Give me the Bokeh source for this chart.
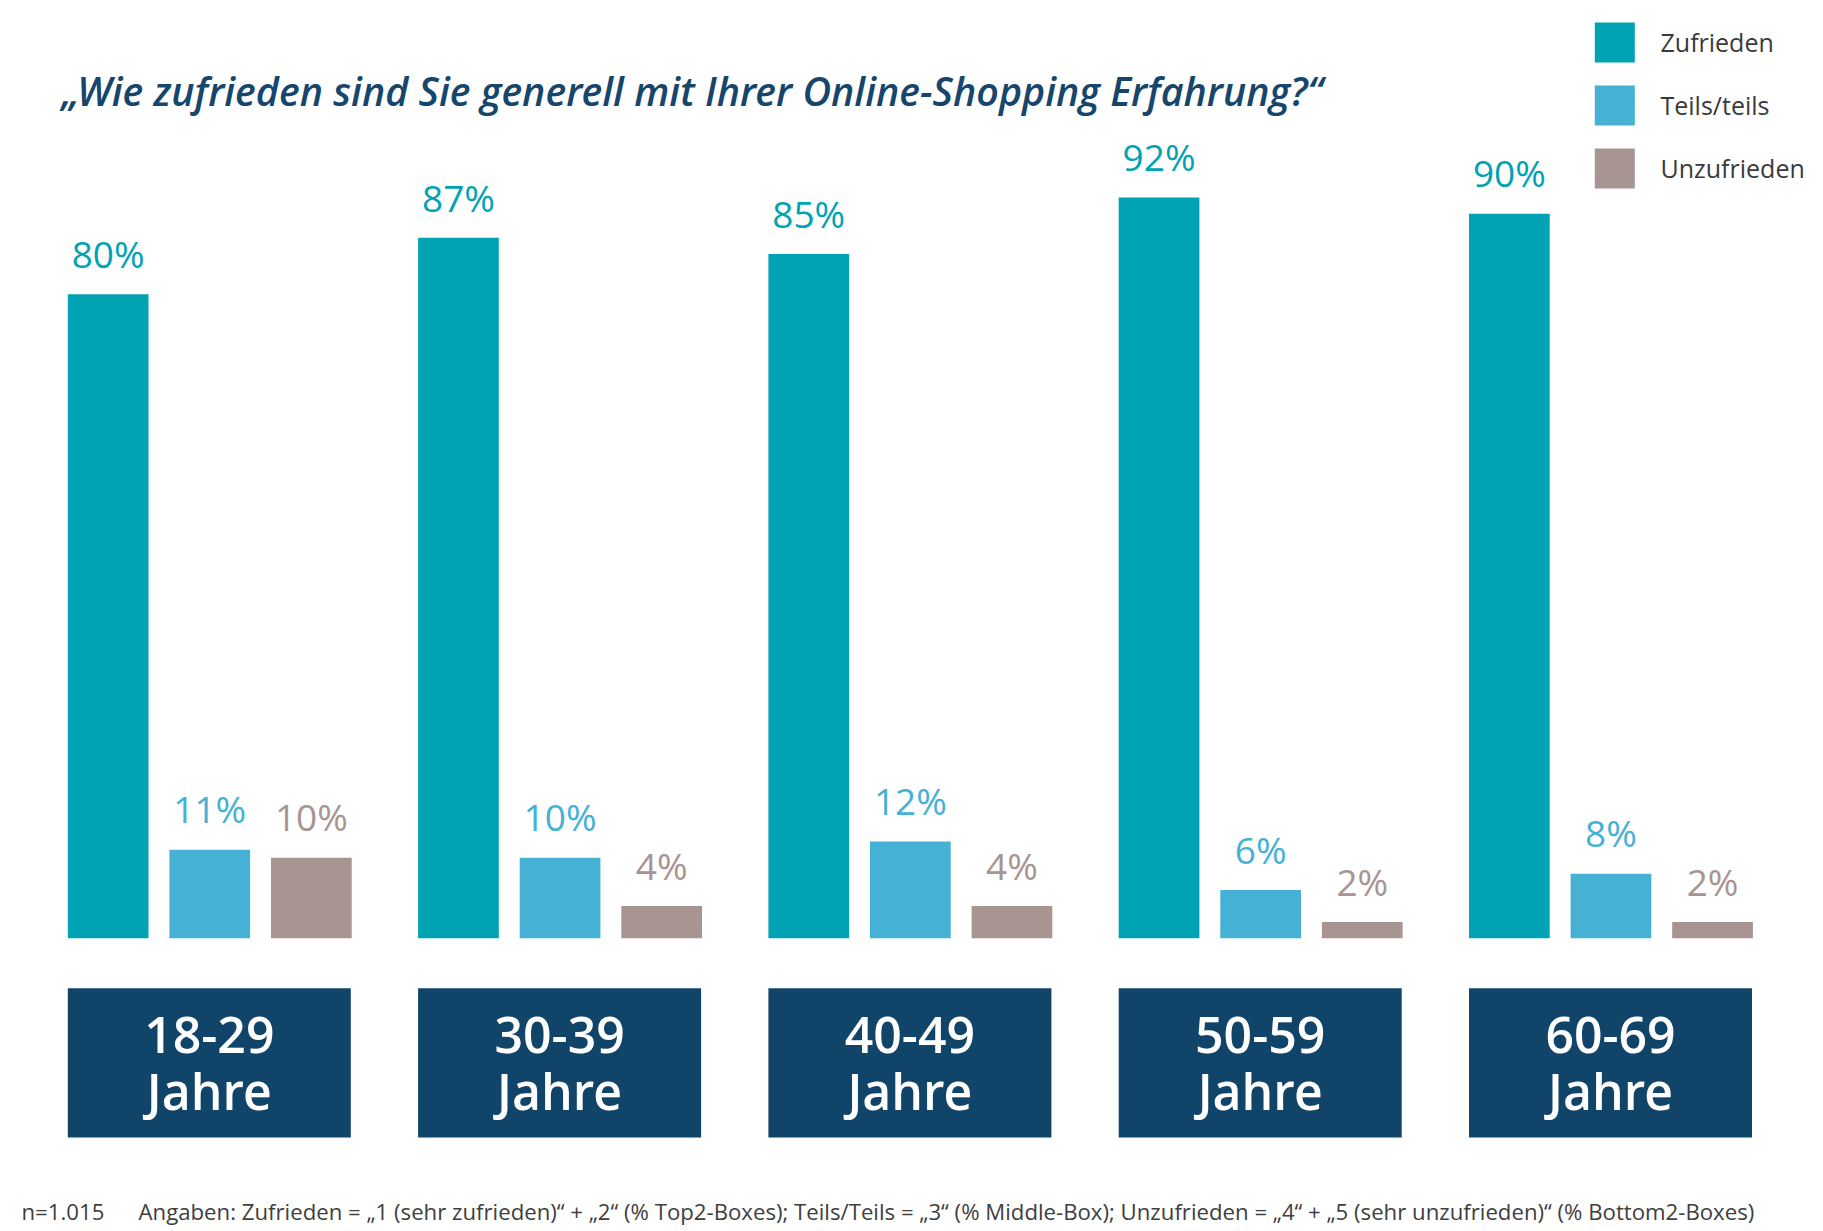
from bokeh.plotting import figure
from bokeh.models import Range1d, ColumnDataSource
from bokeh.core.properties import value
from bokeh.embed import file_html
from bokeh.resources import INLINE

# ---------------- data ----------------
categories = ["18-29", "30-39", "40-49", "50-59", "60-69"]
unit_label = "Jahre"
series_names = ["Zufrieden", "Teils/teils", "Unzufrieden"]
zufrieden = [80, 87, 85, 92, 90]
teils = [11, 10, 12, 6, 8]
unzufrieden = [10, 4, 4, 2, 2]
title_text = "\u201eWie zufrieden sind Sie generell mit Ihrer Online-Shopping Erfahrung?\u201c"
note_n = "n=1.015"
note_text = ("Angaben: Zufrieden = \u201e1 (sehr zufrieden)\u201c + \u201e2\u201c (% Top2-Boxes); "
             "Teils/Teils = \u201e3\u201c (% Middle-Box); Unzufrieden = \u201e4\u201c + "
             "\u201e5 (sehr unzufrieden)\u201c (% Bottom2-Boxes)")

# ---------------- styles / layout ----------------
colors = ["#00A3B4", "#45B1D4", "#A89490"]
navy = "#114469"
title_color = "#16466C"
FONT = value("Open Sans")
FONT_SB = value("Open Sans SemiBold")

W, H = 1821, 1229
BASE = 937.7      # pixel row of 0 %
PPU = 8.05        # pixels per percent


def Y(py):
    return (BASE - py) / PPU


def TY(py, size):
    # baseline pixel row -> data y, compensating the renderer's text offset
    return Y(py - (0.36 * size + 1.5))


p = figure(width=W, height=H, output_backend="svg", toolbar_location=None,
           x_range=Range1d(0, W), y_range=Range1d(Y(H), Y(0)),
           x_axis_type=None, y_axis_type=None, min_border=0,
           outline_line_color=None, background_fill_color="white",
           border_fill_color="white")
p.grid.visible = False

group_left0 = 67.3
group_pitch = 350.3
bar_pitch = 101.6
bar_w = 80.7
VAL_SIZE = 37
label_gap = (26 + 0.36 * VAL_SIZE + 1.5) / PPU

all_series = [zufrieden, teils, unzufrieden]
for k, vals in enumerate(all_series):
    xs = [group_left0 + g * group_pitch + bar_w / 2 + k * bar_pitch for g in range(len(categories))]
    src = ColumnDataSource(dict(x=xs, top=vals,
                                ly=[v + label_gap for v in vals],
                                lab=[f"{v}%" for v in vals]))
    p.vbar(x="x", top="top", bottom=0, width=bar_w, source=src,
           fill_color=colors[k], line_color=None)
    p.text(x="x", y="ly", text="lab", source=src, text_font=FONT,
           text_font_size=f"{VAL_SIZE}px", text_color=colors[k],
           text_align="center", text_baseline="alphabetic")

# category boxes
box_w = 283.0
cx = [group_left0 + g * group_pitch + box_w / 2 for g in range(len(categories))]
p.rect(x=cx, y=[(Y(987.7) + Y(1137)) / 2] * len(cx), width=box_w,
       height=Y(987.7) - Y(1137), fill_color=navy, line_color=None)
p.text(x=cx, y=[TY(1054, 50)] * len(cx), text=categories, text_font=FONT_SB,
       text_font_size="50px", text_color="white", text_align="center",
       text_baseline="alphabetic")
p.text(x=cx, y=[TY(1110, 50)] * len(cx), text=[unit_label] * len(cx), text_font=FONT_SB,
       text_font_size="50px", text_color="white", text_align="center",
       text_baseline="alphabetic")

# title
p.text(x=[61], y=[TY(106.7, 40)], text=[title_text], text_font=FONT_SB,
       text_font_style="italic", text_font_size="39.5px", text_color=title_color,
       text_align="left", text_baseline="alphabetic")

# legend
sq_cy = [42, 105, 168]
p.rect(x=[1614.3] * 3, y=[Y(c) for c in sq_cy], width=40, height=40 / PPU,
       fill_color=colors, line_color=None)
p.text(x=[1660] * 3, y=[TY(c + 10, 25) for c in sq_cy], text=series_names, text_font=FONT,
       text_font_size="25px", text_color="#3A3A3A", text_align="left",
       text_baseline="alphabetic")

# footnote
p.text(x=[21, 138], y=[TY(1220.5, 22.2)] * 2, text=[note_n, note_text], text_font=FONT,
       text_font_size="22.2px", text_color="#404040", text_align="left",
       text_baseline="alphabetic")

open("out.html", "w").write(file_html(p, INLINE))
